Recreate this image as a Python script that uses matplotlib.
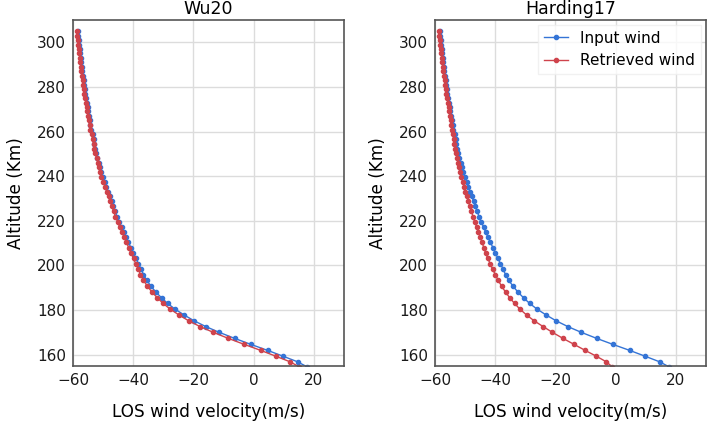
import numpy as np
import matplotlib
matplotlib.use("Agg")
import matplotlib.pyplot as plt

# tangent altitudes (km)
altitude = [154.5, 156.8, 159.3, 161.9, 164.6, 167.3, 170.0, 172.6, 175.2, 177.8,
            180.4, 183.0, 185.5, 188.1, 190.7, 193.3, 195.9, 198.4, 200.8, 203.2,
            205.6, 208.0, 210.4, 212.7, 215.0, 217.3, 219.6, 221.9, 224.2, 226.5,
            228.7, 230.9, 233.1, 235.3, 237.5, 239.7, 241.9, 244.0, 246.1, 248.2,
            250.3, 252.4, 254.5, 256.6, 258.7, 260.8, 262.9, 265.0, 267.0, 269.0,
            271.0, 273.0, 275.0, 277.0, 279.0, 281.0, 283.0, 285.0, 287.0, 289.0,
            291.0, 293.0, 295.0, 297.0, 299.0, 301.0, 303.0, 305.0]

input_wind = [17.8, 14.6, 9.8, 4.7, -0.9, -6.3, -11.4, -15.9, -19.8, -23.1,
              -26.1, -28.6, -30.6, -32.5, -34.1, -35.5, -36.6, -37.4, -38.3, -39.1,
              -40.0, -40.8, -41.6, -42.4, -43.2, -43.9, -44.7, -45.4, -46.0, -46.6,
              -47.2, -47.8, -48.4, -49.0, -49.5, -50.2, -50.7, -51.1, -51.5, -51.9,
              -52.3, -52.6, -52.9, -53.2, -53.5, -53.9, -54.2, -54.5, -54.7, -54.9,
              -55.1, -55.4, -55.6, -55.9, -56.1, -56.3, -56.5, -56.7, -56.9, -57.1,
              -57.3, -57.4, -57.6, -57.8, -57.9, -58.1, -58.3, -58.5]

retrieved_wu20 = [15.2, 12.1, 7.4, 2.4, -3.1, -8.4, -13.4, -17.8, -21.6, -24.8,
                  -27.7, -30.1, -32.0, -33.8, -35.3, -36.6, -37.6, -38.3, -39.2, -39.9,
                  -40.8, -41.5, -42.3, -43.0, -43.8, -44.5, -45.2, -45.9, -46.5, -47.1,
                  -47.7, -48.2, -48.8, -49.4, -49.9, -50.6, -51.1, -51.4, -51.8, -52.2,
                  -52.6, -52.9, -53.2, -53.5, -53.8, -54.2, -54.5, -54.8, -55.0, -55.2,
                  -55.4, -55.7, -55.9, -56.2, -56.4, -56.6, -56.8, -57.0, -57.2, -57.4,
                  -57.6, -57.7, -57.9, -58.1, -58.2, -58.4, -58.6, -58.8]

retrieved_harding17 = [-1.1, -3.1, -6.4, -10.1, -13.8, -17.5, -21.0, -24.1, -27.1, -29.6,
                       -31.8, -33.6, -35.2, -36.6, -37.9, -39.0, -40.0, -40.9, -41.7, -42.5,
                       -43.2, -43.8, -44.4, -45.0, -45.6, -46.2, -46.8, -47.4, -47.9, -48.4,
                       -48.9, -49.4, -49.9, -50.3, -50.8, -51.3, -51.7, -52.0, -52.4, -52.7,
                       -53.0, -53.3, -53.6, -53.8, -54.1, -54.3, -54.6, -54.8, -55.0, -55.3,
                       -55.5, -55.7, -55.9, -56.2, -56.4, -56.6, -56.8, -57.0, -57.2, -57.4,
                       -57.6, -57.7, -57.9, -58.1, -58.2, -58.4, -58.6, -58.8]

titles = ['Wu20', 'Harding17']
retrieved = [retrieved_wu20, retrieved_harding17]

blue = '#3474d6'
red = '#cf434c'

fig, axes = plt.subplots(1, 2, figsize=(7.09, 4.21), dpi=100)
fig.subplots_adjust(left=0.103, right=0.9958, top=0.9525, bottom=0.131, wspace=0.336)

for ax, title, ret in zip(axes, titles, retrieved):
    ax.plot(input_wind, altitude, '-o', color=blue, lw=1.0, ms=3.0, label='Input wind')
    ax.plot(ret, altitude, '-o', color=red, lw=1.0, ms=3.0, label='Retrieved wind')
    ax.set_xlim(-60, 30)
    ax.set_ylim(155, 310)
    ax.set_xticks([-60, -40, -20, 0, 20])
    ax.set_yticks(np.arange(160, 301, 20))
    ax.grid(True, color='#dcdcdc', lw=1.0)
    ax.set_axisbelow(True)
    ax.tick_params(length=0, labelsize=11, pad=5, colors='#1a1a1a')
    for s in ax.spines.values():
        s.set_color('#555555')
        s.set_linewidth(1.2)
    ax.set_title(title, fontsize=12.5, pad=4)
    ax.set_xlabel('LOS wind velocity(m/s)', fontsize=12.2, labelpad=11)
    ax.set_ylabel('Altitude (Km)', fontsize=12.2, labelpad=9)

leg = axes[1].legend(loc='upper right', fontsize=11, frameon=True, fancybox=False,
                     handlelength=1.6, borderaxespad=0.3)
leg.get_frame().set_edgecolor('#eeeeee')

fig.savefig('out.png', dpi=100)
